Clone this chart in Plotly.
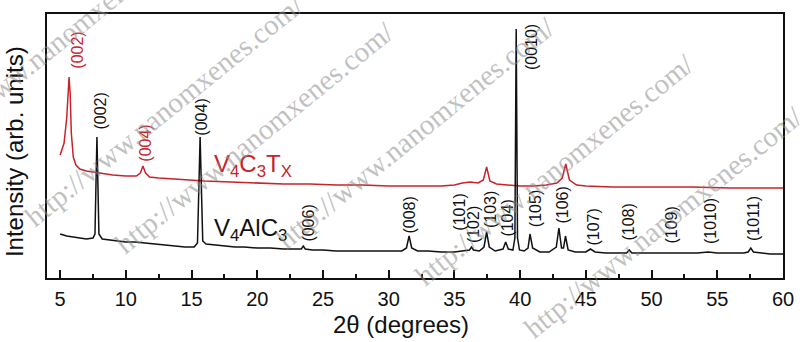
import plotly.graph_objects as go

# ---------------- data ----------------
# V4AlC3 pattern (black), intensity in arbitrary units
two_theta_alc = [5.0, 5.5, 6.0, 6.5, 7.0, 7.5, 7.65, 7.8, 7.95, 8.2, 8.7, 9.3, 10.0, 10.7, 11.5,
                 12.3, 13.0, 13.8, 14.5, 15.2, 15.45, 15.65, 15.85, 16.1, 16.8, 17.5, 18.3, 19.0,
                 20.0, 21.0, 22.0, 23.0, 23.35, 23.5, 23.65, 24.2, 25.0, 26.0, 27.0, 28.0, 29.0,
                 30.0, 31.0, 31.35, 31.55, 31.75, 32.2, 33.0, 34.0, 35.0, 35.8, 36.15, 36.3, 36.45,
                 36.9, 37.25, 37.45, 37.65, 38.1, 38.7, 38.9, 39.1, 39.45, 39.6, 39.7, 39.8, 39.95,
                 40.3, 40.6, 40.75, 40.95, 41.5, 42.2, 42.75, 42.95, 43.15, 43.3, 43.45, 43.65,
                 44.2, 45.0, 45.35, 45.7, 46.5, 47.5, 48.1, 48.3, 48.5, 49.3, 50.5, 51.5, 52.5,
                 53.5, 54.3, 55.0, 56.0, 57.0, 57.35, 57.55, 57.75, 58.3, 59.0, 60.0]
intensity_alc = [44, 42, 41, 40, 39, 40, 44, 141, 44, 39, 38, 37, 36, 36, 35,
                 34, 33, 32, 31, 31, 35, 141, 37, 34, 33, 32, 31, 31,
                 30, 30, 29, 29, 29, 32, 29, 28, 28, 27, 27, 27, 27,
                 27, 27, 30, 42, 30, 27, 27, 26, 26, 27, 28, 31, 28,
                 27, 31, 46, 31, 27, 29, 36, 29, 28, 40, 249, 40, 28,
                 27, 30, 44, 30, 26, 26, 31, 50, 30, 30, 42, 28,
                 26, 26, 29, 26, 25, 25, 25, 28, 25, 25, 25, 25, 25,
                 25, 26, 25, 25, 25, 26, 30, 26, 25, 24, 24]

# V4C3Tx pattern (red)
two_theta_ct = [5.0, 5.3, 5.5, 5.6, 5.68, 5.76, 5.85, 6.0, 6.2, 6.5, 7.0, 7.5, 8.0, 9.0, 10.0,
                10.8, 11.1, 11.3, 11.5, 11.8, 12.5, 13.5, 14.5, 16.0, 18.0, 20.0, 22.0, 24.0,
                26.0, 28.0, 30.0, 32.0, 34.0, 35.0, 35.6, 36.2, 36.8, 37.2, 37.45, 37.7, 38.2,
                39.0, 40.0, 41.0, 42.0, 42.8, 43.2, 43.47, 43.75, 44.3, 45.0, 47.0, 50.0, 53.0,
                56.0, 60.0]
intensity_ct = [123, 135, 160, 190, 201, 185, 145, 121, 113, 109, 107, 106, 105, 103, 102,
                102, 105, 112, 105, 101, 100, 99, 98, 97, 96, 95, 94, 94,
                93, 93, 92, 92, 92, 93, 95, 96, 95, 98, 111, 97, 94,
                93, 92, 92, 93, 95, 100, 114, 98, 93, 92, 91, 91, 91,
                90, 90]

# peak index labels
alc_labels = ["(002)", "(004)", "(006)", "(008)", "(101)", "(102)", "(103)", "(104)",
              "(0010)", "(105)", "(106)", "(107)", "(108)", "(109)", "(1010)", "(1011)"]
alc_label_x = [8.0, 15.69, 23.83, 31.51, 35.32, 36.46, 37.71, 38.97,
               40.87, 41.14, 43.15, 45.51, 48.17, 51.44, 54.45, 57.76]
alc_label_y = [167, 161, 55, 63, 66, 53.5, 68, 60,
               230.5, 69, 73, 51, 56, 53, 57, 59.5]

ct_labels = ["(002)", "(004)"]
ct_label_x = [6.26, 11.43]
ct_label_y = [228, 135]

x_ticks = [5, 10, 15, 20, 25, 30, 35, 40, 45, 50, 55, 60]

BLACK = "#111111"
RED = "#c8232b"
FONT = "Liberation Sans, Arial, sans-serif"

fig = go.Figure()
fig.add_trace(go.Scatter(x=two_theta_ct, y=intensity_ct, mode="lines",
                         line=dict(color=RED, width=1.5), name="V4C3Tx", showlegend=False))
fig.add_trace(go.Scatter(x=two_theta_alc, y=intensity_alc, mode="lines",
                         line=dict(color=BLACK, width=1.5), name="V4AlC3", showlegend=False))

annotations = []
for t, x, y in zip(alc_labels, alc_label_x, alc_label_y):
    annotations.append(dict(x=x, y=y, xref="x", yref="y", text=t, showarrow=False,
                            textangle=-90, font=dict(family=FONT, size=16, color=BLACK),
                            xanchor="center", yanchor="middle"))
for t, x, y in zip(ct_labels, ct_label_x, ct_label_y):
    annotations.append(dict(x=x, y=y, xref="x", yref="y", text=t, showarrow=False,
                            textangle=-90, font=dict(family=FONT, size=16, color=RED),
                            xanchor="center", yanchor="middle"))

annotations.append(dict(x=16.56, y=113, xref="x", yref="y",
                        text="V<sub>4</sub>C<sub>3</sub>T<sub>X</sub>", showarrow=False,
                        font=dict(family=FONT, size=24, color=RED),
                        xanchor="left", yanchor="middle"))
annotations.append(dict(x=16.56, y=48.5, xref="x", yref="y",
                        text="V<sub>4</sub>AlC<sub>3</sub>", showarrow=False,
                        font=dict(family=FONT, size=24, color=BLACK),
                        xanchor="left", yanchor="middle"))

# axis titles
annotations.append(dict(x=0.481, y=-0.178, xref="paper", yref="paper",
                        text="2θ (degrees)", showarrow=False,
                        font=dict(family=FONT, size=24, color=BLACK),
                        xanchor="center", yanchor="middle"))
annotations.append(dict(x=-0.0448, y=0.477, xref="paper", yref="paper",
                        text="Intensity (arb. units)", showarrow=False, textangle=-90,
                        font=dict(family=FONT, size=24, color=BLACK),
                        xanchor="center", yanchor="middle"))

# watermark
wm_pos = [(0.0163, 0.9015), (0.1603, 0.6345), (0.2826, 0.5341), (0.5, 0.5511),
          (0.6902, 0.4129), (0.8376, 0.2121)]
for (px, py) in wm_pos:
    annotations.append(dict(x=px, y=py, xref="paper", yref="paper",
                            text="http://www.nanomxenes.com/", showarrow=False,
                            textangle=-39,
                            font=dict(family="Liberation Serif, Times New Roman, serif",
                                      size=29, color="rgba(140,140,140,0.55)"),
                            xanchor="center", yanchor="middle"))

fig.update_layout(
    width=800, height=342,
    margin=dict(l=47, r=17, t=14, b=64, autoexpand=False),
    paper_bgcolor="white", plot_bgcolor="white",
    font=dict(family=FONT, color=BLACK),
    annotations=annotations,
    showlegend=False,
)
fig.update_xaxes(
    range=[4, 60], tickmode="array", tickvals=x_ticks,
    ticks="inside", ticklen=8, tickwidth=1.5, tickcolor=BLACK,
    minor=dict(ticks="inside", ticklen=4, tickwidth=1.5, dtick=2.5, tick0=5, tickcolor=BLACK),
    showline=True, linewidth=2, linecolor=BLACK, mirror=True,
    showgrid=False, zeroline=False, automargin=False,
    tickfont=dict(family=FONT, size=20, color=BLACK),
    ticklabelstandoff=2,
)
fig.update_yaxes(
    range=[0, 264], showticklabels=False, ticks="",
    showline=True, linewidth=2, linecolor=BLACK, mirror=True,
    showgrid=False, zeroline=False, automargin=False,
)

fig.write_html("out.html", config={"displayModeBar": False},
               post_script="document.body.style.margin='0px';document.body.style.overflow='hidden';")
